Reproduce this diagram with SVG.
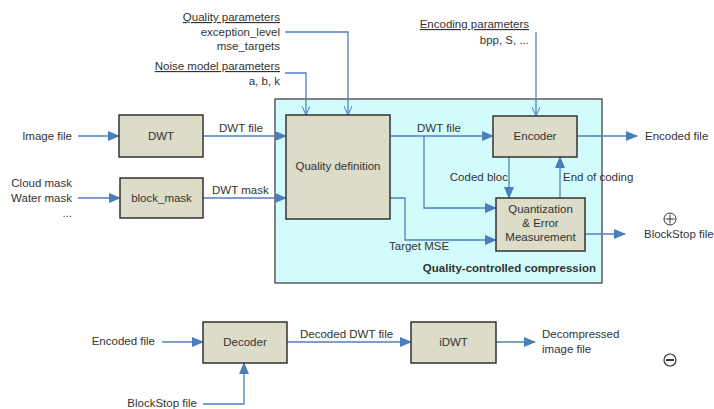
<svg xmlns="http://www.w3.org/2000/svg" width="714" height="409" viewBox="0 0 714 409">
<defs>
<marker id="ah" markerUnits="userSpaceOnUse" markerWidth="12" markerHeight="10" refX="11" refY="5" orient="auto"><path d="M0,0 L12,5 L0,10 Z" fill="#4a7ebb"/></marker>
<marker id="av" markerUnits="userSpaceOnUse" markerWidth="10" markerHeight="8" refX="9" refY="4" orient="auto"><path d="M0,0 L9,4 L0,8" fill="none" stroke="#4a7ebb" stroke-width="1"/></marker>
</defs>
<style>
text{font-family:"Liberation Sans",Arial,sans-serif;font-size:11.5px;fill:#333}
.box{fill:#dcdcc8;stroke:#333;stroke-width:1.5}
.c{fill:none;stroke:#4f81bd;stroke-width:1.3}
.a{marker-end:url(#ah)}
.v{marker-end:url(#av)}
.m{text-anchor:middle}
.e{text-anchor:end}
.u{text-decoration:underline}
</style>
<rect id="container" x="275" y="99" width="327" height="184" fill="#d2fbfb" stroke="#444" stroke-width="1.3"/>
<text x="596" y="272" class="e" style="font-weight:bold">Quality-controlled compression</text>
<g id="connectors">
<path class="c a" d="M78,136 H119"/>
<path class="c a" d="M78,198 H120"/>
<path class="c a" d="M203,136 H286"/>
<path class="c a" d="M203,198 H286"/>
<path class="c v" d="M285,32 H348 V115"/>
<path class="c v" d="M285,73 H306 V115"/>
<path class="c v" d="M536,32 V116"/>
<path class="c a" d="M390,136 H493"/>
<path class="c a" d="M424,136 V208 H496"/>
<path class="c a" d="M390,198 H405 V240 H496"/>
<path class="c a" d="M509,157 V198"/>
<path class="c a" d="M560,198 V157"/>
<path class="c a" d="M577,136 H637"/>
<path class="c a" d="M585,234 H625"/>
<path class="c a" d="M162,342 H203"/>
<path class="c a" d="M203,404 H244 V363"/>
<path class="c a" d="M287,342 H411"/>
<path class="c a" d="M496,342 H535"/>
</g>
<g id="labels">
<text x="280" y="21" class="e u">Quality parameters</text>
<text x="280" y="36" class="e">exception_level</text>
<text x="280" y="50" class="e">mse_targets</text>
<text x="280" y="70" class="e u">Noise model parameters</text>
<text x="280" y="85" class="e">a, b, k</text>
<text x="529" y="28" class="e u">Encoding parameters</text>
<text x="529" y="44" class="e">bpp, S, ...</text>
<text x="72" y="140" class="e">Image file</text>
<text x="72" y="187" class="e">Cloud mask</text>
<text x="72" y="202" class="e">Water mask</text>
<text x="72" y="217" class="e">...</text>
<text x="219" y="132">DWT file</text>
<text x="212" y="194">DWT mask</text>
<text x="417" y="132">DWT file</text>
<text x="508" y="181" class="e">Coded bloc</text>
<text x="563" y="181">End of coding</text>
<text x="389" y="250">Target MSE</text>
<text x="645" y="140">Encoded file</text>
<text x="644" y="238">BlockStop file</text>
<text x="155" y="345" class="e">Encoded file</text>
<text x="300" y="338">Decoded DWT file</text>
<text x="197" y="407" class="e">BlockStop file</text>
<text x="542" y="338">Decompressed</text>
<text x="542" y="353">image file</text>
</g>
<g id="dwt"><rect class="box" x="119" y="115" width="84" height="42"/><text x="161" y="140" class="m">DWT</text></g>
<g id="block_mask"><rect class="box" x="120" y="178" width="83" height="40"/><text x="161.5" y="202" class="m">block_mask</text></g>
<g id="quality_definition"><rect class="box" x="286" y="115" width="104" height="104"/><text x="338" y="170" class="m">Quality definition</text></g>
<g id="encoder"><rect class="box" x="493" y="116" width="84" height="41"/><text x="535" y="140" class="m">Encoder</text></g>
<g id="quantization"><rect class="box" x="496" y="198" width="89" height="53"/><text x="540.5" y="213" class="m">Quantization</text><text x="540.5" y="227" class="m">&amp; Error</text><text x="540.5" y="241" class="m">Measurement</text></g>
<g id="decoder"><rect class="box" x="203" y="322" width="84" height="41"/><text x="245" y="346" class="m">Decoder</text></g>
<g id="idwt"><rect class="box" x="411" y="322" width="85" height="41"/><text x="453.5" y="346" class="m">iDWT</text></g>
<g id="plus"><circle cx="670" cy="219" r="6" fill="none" stroke="#333" stroke-width="1"/><path d="M665.5,219 H674.5 M670,214.5 V223.5" stroke="#333" stroke-width="1"/></g>
<g id="minus"><circle cx="670" cy="360" r="6" fill="none" stroke="#333" stroke-width="1.2"/><path d="M666,360 H674" stroke="#333" stroke-width="2"/></g>
</svg>
